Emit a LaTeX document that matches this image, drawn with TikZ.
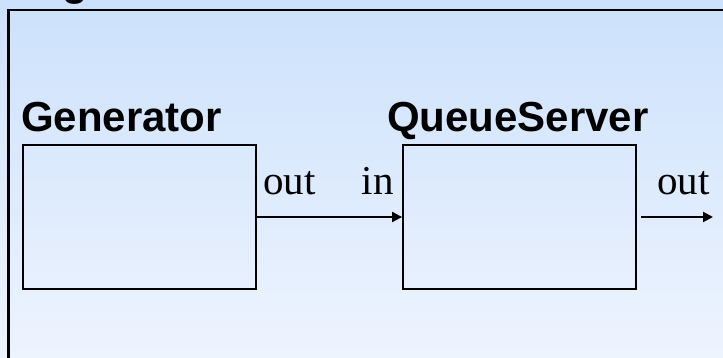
\documentclass[tikz,border=0pt]{standalone}
\usepackage{fontspec}
\setmainfont{Liberation Serif}
\setsansfont{Liberation Sans}
\usepackage{xcolor}
\usetikzlibrary{arrows.meta}

\definecolor{fondoarriba}{RGB}{204,225,252}
\definecolor{fondoabajo}{RGB}{238,244,254}

\begin{document}
\begin{tikzpicture}[x=1pt,y=-1pt,
  bloque/.style={draw,line width=1.8pt,minimum width=233pt,minimum height=144pt,inner sep=0pt},
  titulo/.style={font=\fontsize{42}{48}\selectfont\sffamily\bfseries,inner sep=0pt},
  puerto/.style={font=\fontsize{41}{48}\selectfont,inner sep=0pt},
  flecha/.style={line width=2pt,-{Triangle[length=10pt,width=10pt]}}
]
  \useasboundingbox (0,0) rectangle (723,358);
  \clip (0,0) rectangle (723,358);
  \fill[top color=fondoarriba,bottom color=fondoabajo] (0,0) rectangle (723,358);

  % marco del modelo acoplado
  \draw[line width=2.4pt] (8.5,380) |- (760,10);
  \node[titulo,anchor=base west] (nombre) at (62,-4) {g};

  % componentes
  \node[bloque] (gen) at (139.5,217) {};
  \node[bloque] (cola) at (519.5,217) {};
  \node[titulo,anchor=base west] (tgen) at (21,132) {Generator};
  \node[titulo,anchor=base west] (tcola) at (387,132) {QueueServer};

  % puertos
  \node[puerto,anchor=base west] (pout) at (263,195) {out};
  \node[puerto,anchor=base east] (pin) at (394,195) {in};
  \node[puerto,anchor=base west] (pout2) at (657,195) {out};

  \coordinate (salida) at (713,217);
  \draw[flecha] (gen.east) -- (cola.west);
  \draw[flecha] ([xshift=4pt]cola.east) -- (salida);
\end{tikzpicture}
\end{document}
